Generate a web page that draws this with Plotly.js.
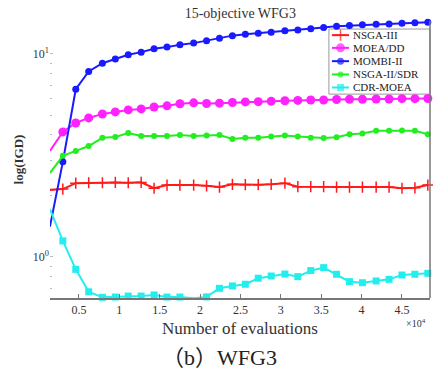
<!DOCTYPE html>
<html>
<head>
<meta charset="utf-8">
<script src="https://cdn.plot.ly/plotly-3.0.1.min.js"></script>
<style>html,body{margin:0;padding:0;background:#fff;}#chart{width:433px;height:369px;}</style>
</head>
<body>
<div id="chart"></div>
<script>
// Number of evaluations (x 10^4)
var evals = [0.14,0.30,0.46,0.62,0.79,0.95,1.11,1.27,1.43,1.59,1.75,1.92,2.08,2.24,2.40,2.56,2.72,2.88,3.05,3.21,3.37,3.53,3.69,3.85,4.01,4.18,4.34,4.50,4.66,4.82];

var seriesNames = ["NSGA-III", "MOEA/DD", "MOMBI-II", "NSGA-II/SDR", "CDR-MOEA"];

var nsga3 = [2.14,2.16,2.31,2.32,2.32,2.33,2.32,2.33,2.18,2.26,2.26,2.26,2.24,2.21,2.28,2.27,2.27,2.28,2.31,2.22,2.22,2.22,2.21,2.21,2.21,2.21,2.21,2.18,2.19,2.26];
var moeadd = [3.33,4.13,4.57,4.84,5.06,5.18,5.30,5.36,5.48,5.55,5.68,5.74,5.70,5.72,5.76,5.80,5.82,5.85,5.88,5.90,5.93,5.93,5.96,5.98,5.98,6.00,6.00,6.02,6.02,6.03];
var mombi2 = [1.41,2.94,6.7,8.2,9.0,9.45,9.9,10.2,10.6,10.8,11.1,11.3,11.6,11.95,12.3,12.5,12.65,12.8,13.0,13.1,13.3,13.5,13.7,13.8,13.9,14.0,14.05,14.15,14.25,14.3];
var nsga2sdr = [2.59,3.15,3.33,3.52,3.86,3.90,4.08,3.94,3.94,3.94,3.99,3.94,3.96,3.99,3.81,3.86,3.87,3.92,3.96,3.92,3.87,3.85,3.89,4.02,4.06,4.18,4.18,4.19,4.18,4.02];
var cdrmoea = [1.72,1.20,0.869,0.674,0.633,0.635,0.642,0.642,0.650,0.635,0.635,0.626,0.636,0.701,0.720,0.734,0.786,0.806,0.824,0.800,0.857,0.886,0.822,0.756,0.747,0.762,0.776,0.815,0.822,0.831];

var xTickVals = [0.5,1,1.5,2,2.5,3,3.5,4,4.5];
var xTickText = ["0.5","1","1.5","2","2.5","3","3.5","4","4.5"];
var yTickVals = [1, 10];
var yTickText = ["10<sup>0</sup>", "10<sup>1</sup>"];

var seriesData = [nsga3, moeadd, mombi2, nsga2sdr, cdrmoea];
var colors = ["#ff1a1a", "#ff22ff", "#1a1aff", "#22ee22", "#22eeee"];
var symbols = ["cross-thin", "circle", "circle", "circle", "square"];
var sizes = [8, 9, 7, 6, 7];

var traces = [];
for (var k = 0; k < seriesData.length; k++) {
  traces.push({
    x: evals, y: seriesData[k], name: seriesNames[k],
    type: "scatter", mode: "lines+markers", showlegend: false, cliponaxis: false,
    line: {color: colors[k], width: 2},
    marker: {color: colors[k], symbol: symbols[k], size: sizes[k],
             line: {color: colors[k], width: symbols[k] === "cross-thin" ? 1.5 : 0}}
  });
}

// Compact legend (sample lines on an overlay axis in paper-like units)
var legX0 = 0.742, legX1 = 0.787, legTextX = 0.792;
var legY = [0.949, 0.903, 0.855, 0.807, 0.760];
var annotations = [];
for (var k = 0; k < seriesNames.length; k++) {
  traces.push({
    x: [legX0, (legX0 + legX1) / 2, legX1], y: [legY[k], legY[k], legY[k]],
    xaxis: "x2", yaxis: "y2", type: "scatter", mode: "lines+markers",
    showlegend: false, hoverinfo: "skip", cliponaxis: false,
    line: {color: colors[k], width: 2},
    marker: {color: colors[k], symbol: symbols[k], size: [0, sizes[k], 0],
             line: {color: colors[k], width: symbols[k] === "cross-thin" ? 1.5 : 0}}
  });
  annotations.push({
    xref: "paper", yref: "paper", x: legTextX, y: legY[k],
    xanchor: "left", yanchor: "middle", showarrow: false,
    text: seriesNames[k],
    font: {family: "Liberation Serif, Times New Roman, serif", size: 11, color: "#222"}
  });
}
annotations.push({
  xref: "paper", yref: "paper", x: 0.962, y: -0.09, xanchor: "center", yanchor: "middle",
  showarrow: false, text: "\u00d710<sup>4</sup>",
  font: {family: "Liberation Serif, Times New Roman, serif", size: 10, color: "#333"}
});
annotations.push({
  xref: "paper", yref: "paper", x: 0.447, y: -0.213, xanchor: "center", yanchor: "middle",
  showarrow: false, text: "\uff08b\uff09WFG3",
  font: {family: "Liberation Serif, Noto Sans CJK SC, serif", size: 22, color: "#222"}
});

var layout = {
  width: 433, height: 369,
  margin: {l: 50, r: 3, t: 21, b: 71},
  paper_bgcolor: "#fff", plot_bgcolor: "#fff",
  title: {text: "15-objective WFG3", x: 0.555, xanchor: "center", y: 0.965, yanchor: "middle",
          font: {family: "Liberation Serif, Times New Roman, serif", size: 14, color: "#333"}},
  xaxis: {
    range: [0.141, 4.847], tickvals: xTickVals, ticktext: xTickText,
    showgrid: false, zeroline: false, showline: true, linecolor: "#777", linewidth: 1.5,
    ticks: "inside", ticklen: 4, tickcolor: "#777",
    tickfont: {family: "Liberation Serif, Times New Roman, serif", size: 12, color: "#333"},
    title: {text: "Number of evaluations", standoff: 6,
            font: {family: "Liberation Serif, Times New Roman, serif", size: 17, color: "#333"}}
  },
  yaxis: {
    type: "log", range: [-0.202, 1.162], tickvals: yTickVals, ticktext: yTickText,
    showgrid: false, zeroline: false, showline: false,
    ticks: "inside", ticklen: 3, tickcolor: "#bbb",
    minor: {ticks: "inside", ticklen: 2, tickcolor: "#bbb", tickvals: [0.7,0.8,0.9,2,3,4,5,6,7,8,9]},
    tickfont: {family: "Liberation Serif, Times New Roman, serif", size: 12, color: "#333"},
    title: {text: "<b>log(IGD)</b>", standoff: 6,
            font: {family: "Liberation Serif, Times New Roman, serif", size: 13, color: "#333"}}
  },
  xaxis2: {domain: [0, 1], range: [0, 1], anchor: "y2", overlaying: "x", visible: false, fixedrange: true},
  yaxis2: {domain: [0, 1], range: [0, 1], anchor: "x2", overlaying: "y", visible: false, fixedrange: true},
  shapes: [
    {type: "line", xref: "paper", yref: "paper", x0: 1, x1: 1, y0: 0, y1: 1,
     line: {color: "#777", width: 1.5}},
    {type: "rect", xref: "paper", yref: "paper", x0: 0.734, x1: 1.0, y0: 0.736, y1: 0.971,
     fillcolor: "#fff", layer: "below", line: {color: "#999", width: 1}}
  ],
  annotations: annotations
};

Plotly.newPlot("chart", traces, layout, {staticPlot: true, displayModeBar: false});
</script>
</body>
</html>
